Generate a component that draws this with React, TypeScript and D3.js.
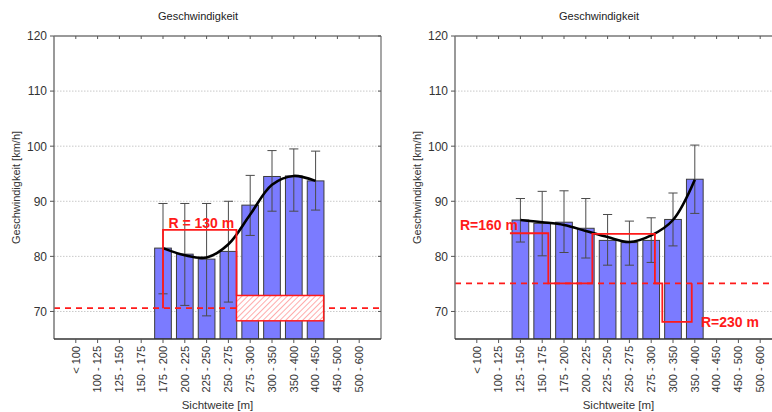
import React from "react";
import * as d3 from "d3";

// Sight-distance classes shared by both panels
const CATEGORIES = [
  "< 100", "100 - 125", "125 - 150", "150 - 175", "175 - 200", "200 - 225",
  "225 - 250", "250 - 275", "275 - 300", "300 - 350", "350 - 400",
  "400 - 450", "450 - 500", "500 - 600",
];
const Y_TICKS = [70, 80, 90, 100, 110, 120];

// Left panel: mean speed with error range per class
const LEFT_CLASSES = ["175 - 200", "200 - 225", "225 - 250", "250 - 275", "275 - 300", "300 - 350", "350 - 400", "400 - 450"];
const LEFT_MEAN = [81.5, 80.4, 79.5, 80.9, 89.3, 94.5, 94.6, 93.7];
const LEFT_UPPER = [89.6, 89.6, 89.6, 90.0, 94.7, 99.2, 99.5, 99.1];
const LEFT_LOWER = [73.2, 71.1, 69.2, 71.7, 83.8, 88.2, 88.2, 88.4];
const LEFT_TREND = [81.5, 80.2, 79.8, 82.2, 87.6, 93.0, 94.6, 93.7];
const LEFT_LIMIT = 70.6;
// step outline: [class position, speed]
const LEFT_STEP: [number, number][] = [[5, 70.6], [5, 84.8], [8.37, 84.8], [8.37, 72.9]];
const LEFT_ZONE_X = [8.37, 12.37];
const LEFT_ZONE_Y = [68.3, 72.9];
const LEFT_NOTE = { text: "R = 130 m", pos: 6.76, speed: 85.1, anchor: "middle" };

// Right panel
const RIGHT_CLASSES = ["125 - 150", "150 - 175", "175 - 200", "200 - 225", "225 - 250", "250 - 275", "275 - 300", "300 - 350", "350 - 400"];
const RIGHT_MEAN = [86.6, 86.0, 86.2, 85.1, 82.9, 82.5, 82.9, 86.7, 94.0];
const RIGHT_UPPER = [90.5, 91.8, 91.9, 90.5, 87.6, 86.4, 87.0, 91.5, 100.2];
const RIGHT_LOWER = [82.6, 80.1, 80.7, 79.7, 78.4, 78.4, 78.9, 81.9, 87.8];
const RIGHT_TREND = [86.6, 86.2, 85.7, 84.6, 83.5, 82.6, 83.8, 86.6, 93.9];
const RIGHT_LIMIT = 75.1;
const RIGHT_STEP: [number, number][] = [
  [2.52, 84.2], [4.28, 84.2], [4.28, 75.1], [6.3, 75.1], [6.3, 84.1], [9.17, 84.1],
  [9.17, 75.1], [9.51, 75.1], [9.51, 68.1], [10.86, 68.1], [10.86, 75.1],
];
const RIGHT_NOTES = [
  { text: "R=160 m", pos: 0.23, speed: 84.8, anchor: "start" },
  { text: "R=230 m", pos: 11.28, speed: 67.2, anchor: "start" },
];

const FONT = "'Liberation Sans', Arial, sans-serif";
const TOP = 36;
const BOTTOM = 339;
const PLOT_W = 327;

type Note = { text: string; pos: number; speed: number; anchor: string };

type PanelProps = {
  x0: number;
  titleX: number;
  classes: string[];
  mean: number[];
  upper: number[];
  lower: number[];
  trend: number[];
  limit: number;
  step: [number, number][];
  zoneX?: number[];
  zoneY?: number[];
  notes: Note[];
  id: string;
};

function Panel(p: PanelProps) {
  const x = d3.scaleLinear().domain([0, 15]).range([p.x0, p.x0 + PLOT_W]);
  const y = d3.scaleLinear().domain([65, 120]).range([BOTTOM, TOP]);
  const idx = (c: string) => CATEGORIES.indexOf(c) + 1;
  const half = 0.383;
  const cap = 0.21;
  const trendLine = d3
    .line<number>()
    .x((_, i) => x(idx(p.classes[i])))
    .y((v) => y(v))
    .curve(d3.curveCatmullRom.alpha(0.5));
  const stepLine = d3
    .line<[number, number]>()
    .x((d) => x(d[0]))
    .y((d) => y(d[1]));
  const x1 = p.x0 + PLOT_W;

  return (
    <g>
      <defs>
        <clipPath id={`clip-${p.id}`}>
          <rect x={p.x0} y={TOP} width={PLOT_W} height={BOTTOM - TOP} />
        </clipPath>
        <pattern id={`hatch-${p.id}`} patternUnits="userSpaceOnUse" width={4} height={4} patternTransform="rotate(45)">
          <rect width={4} height={4} fill="#fff" />
          <line x1={0} y1={0} x2={0} y2={4} stroke="#ff5a5a" strokeWidth={1} />
        </pattern>
      </defs>

      <text x={p.titleX} y={20} textAnchor="middle" fontFamily={FONT} fontSize={11} fill="#222">
        Geschwindigkeit
      </text>

      {/* grid */}
      {Y_TICKS.filter((t) => t < 120).map((t) => (
        <line key={t} x1={p.x0} x2={x1} y1={y(t)} y2={y(t)} stroke="#c9c9c9" strokeWidth={1} strokeDasharray="1.5,1.5" />
      ))}

      <g clipPath={`url(#clip-${p.id})`}>
        {/* bars */}
        {p.classes.map((c, i) => (
          <rect
            key={c}
            x={x(idx(c) - half)}
            y={y(p.mean[i])}
            width={x(idx(c) + half) - x(idx(c) - half)}
            height={y(65) - y(p.mean[i])}
            fill="#7b7bff"
            stroke="#3c3c3c"
            strokeWidth={1}
          />
        ))}
        {/* whiskers */}
        {p.classes.map((c, i) => {
          const cx = x(idx(c));
          const w = x(cap) - x(0);
          return (
            <g key={c} stroke="#4a4a4a" strokeWidth={1}>
              <line x1={cx} x2={cx} y1={y(p.upper[i])} y2={y(p.lower[i])} />
              <line x1={cx - w} x2={cx + w} y1={y(p.upper[i])} y2={y(p.upper[i])} />
              <line x1={cx - w} x2={cx + w} y1={y(p.lower[i])} y2={y(p.lower[i])} />
            </g>
          );
        })}
        {/* trend */}
        <path d={trendLine(p.trend) || ""} fill="none" stroke="#000" strokeWidth={2.6} strokeLinejoin="round" />

        {/* reference speed */}
        <line x1={p.x0} x2={x1} y1={y(p.limit)} y2={y(p.limit)} stroke="#ff1a1a" strokeWidth={1.8} strokeDasharray="6,5" />
        <path d={stepLine(p.step) || ""} fill="none" stroke="#ff1a1a" strokeWidth={1.8} />
        {p.zoneX && p.zoneY && (
          <rect
            x={x(p.zoneX[0])}
            y={y(p.zoneY[1])}
            width={x(p.zoneX[1]) - x(p.zoneX[0])}
            height={y(p.zoneY[0]) - y(p.zoneY[1])}
            fill={`url(#hatch-${p.id})`}
            stroke="#ff1a1a"
            strokeWidth={1.5}
          />
        )}
      </g>

      {p.notes.map((n) => (
        <text
          key={n.text}
          x={x(n.pos)}
          y={y(n.speed)}
          textAnchor={n.anchor as any}
          fontFamily={FONT}
          fontWeight="bold"
          fontSize={14}
          fill="#ff1a1a"
        >
          {n.text}
        </text>
      ))}

      {/* frame */}
      <line x1={p.x0} x2={x1} y1={TOP} y2={TOP} stroke="#777" strokeWidth={1.3} />
      <line x1={x1} x2={x1} y1={TOP} y2={BOTTOM} stroke="#777" strokeWidth={1.3} />
      <line x1={p.x0} x2={p.x0} y1={TOP} y2={BOTTOM} stroke="#777" strokeWidth={1.5} />
      <line x1={p.x0} x2={x1} y1={BOTTOM} y2={BOTTOM} stroke="#333" strokeWidth={1.6} />

      {/* y axis */}
      {Y_TICKS.map((t) => (
        <g key={t}>
          <line x1={p.x0 - 4} x2={p.x0} y1={y(t)} y2={y(t)} stroke="#555" strokeWidth={1} />
          <line x1={x1 - 3} x2={x1} y1={y(t)} y2={y(t)} stroke="#555" strokeWidth={1} />
          <text x={p.x0 - 7} y={y(t)} dy="0.36em" textAnchor="end" fontFamily={FONT} fontSize={12} fill="#333">
            {t}
          </text>
        </g>
      ))}
      <text
        transform={`translate(${p.x0 - 38},${(TOP + BOTTOM) / 2}) rotate(-90)`}
        textAnchor="middle"
        dy="0.35em"
        fontFamily={FONT}
        fontSize={11}
        fill="#333"
      >
        Geschwindigkeit [km/h]
      </text>

      {/* x axis */}
      {CATEGORIES.map((c, i) => {
        const cx = x(i + 1);
        return (
          <g key={c}>
            <line x1={cx} x2={cx} y1={TOP} y2={TOP + 3} stroke="#555" strokeWidth={1} />
            <line x1={cx} x2={cx} y1={BOTTOM} y2={BOTTOM + 4} stroke="#555" strokeWidth={1} />
            <text
              transform={`translate(${cx},${BOTTOM + 7}) rotate(-90)`}
              textAnchor="end"
              dy="0.35em"
              fontFamily={FONT}
              fontSize={11}
              fill="#333"
            >
              {c}
            </text>
          </g>
        );
      })}
      <text x={p.x0 + PLOT_W / 2} y={409} textAnchor="middle" fontFamily={FONT} fontSize={11.5} fill="#333">
        Sichtweite [m]
      </text>
    </g>
  );
}

export default function App() {
  return (
    <svg
      width={772}
      height={412}
      style={{ position: "absolute", left: 0, top: 0, background: "#fff" }}
    >
      <rect width={772} height={412} fill="#fff" />
      <Panel
        id="l"
        x0={54}
        titleX={198}
        classes={LEFT_CLASSES}
        mean={LEFT_MEAN}
        upper={LEFT_UPPER}
        lower={LEFT_LOWER}
        trend={LEFT_TREND}
        limit={LEFT_LIMIT}
        step={LEFT_STEP}
        zoneX={LEFT_ZONE_X}
        zoneY={LEFT_ZONE_Y}
        notes={[LEFT_NOTE]}
      />
      <Panel
        id="r"
        x0={455}
        titleX={599}
        classes={RIGHT_CLASSES}
        mean={RIGHT_MEAN}
        upper={RIGHT_UPPER}
        lower={RIGHT_LOWER}
        trend={RIGHT_TREND}
        limit={RIGHT_LIMIT}
        step={RIGHT_STEP}
        notes={RIGHT_NOTES}
      />
    </svg>
  );
}
